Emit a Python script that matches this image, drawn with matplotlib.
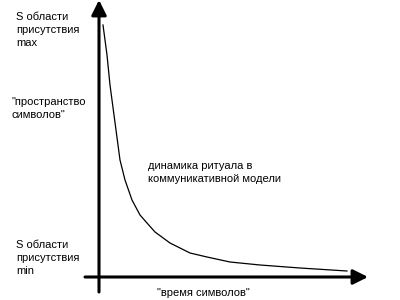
import matplotlib
matplotlib.use("Agg")
import matplotlib.pyplot as plt

# curve: t = time from origin, s = height above time axis
t = [4, 8, 11, 15, 17, 21, 26, 33, 41, 48, 56, 71, 91, 108, 131, 161, 201, 248]
s = [252, 222, 192, 162, 147, 117, 97, 77, 62, 54, 45, 34, 24, 20, 15, 12, 9, 6]

y_labels = ['S области\nприсутствия\nmax', '"пространство\nсимволов"', 'S области\nприсутствия\nmin']
x_label = '"время символов"'
curve_label = 'динамика ритуала в\nкоммуникативной модели'

plt.rcParams['font.family'] = ['Liberation Sans', 'DejaVu Sans']

fig = plt.figure(figsize=(4, 3), dpi=100)
ax = fig.add_axes([0, 0, 1, 1])
ax.set_xlim(-99, 301)
ax.set_ylim(-23, 277)
ax.axis('off')

# axes with arrow heads
arrow = dict(arrowstyle='-|>,head_length=0.9,head_width=0.45', lw=2.2, color='black',
             shrinkA=0, shrinkB=0)
ax.annotate('', xy=(0, 277), xytext=(0, -15), arrowprops=arrow)
ax.annotate('', xy=(269, 0), xytext=(-14, 0), arrowprops=arrow)

ax.plot(t, s, color='black', lw=0.9)

fs = 8
ls = 1.4
ax.text(-83, 265, y_labels[0], fontsize=fs, va='top', ha='left', linespacing=ls)
ax.text(-87, 180, y_labels[1], fontsize=fs, va='top', ha='left', linespacing=ls)
ax.text(-83, 37, y_labels[2], fontsize=fs, va='top', ha='left', linespacing=ls)
ax.text(49, 116, curve_label, fontsize=fs, va='top', ha='left', linespacing=ls)
ax.text(58, -11, x_label, fontsize=fs, va='top', ha='left')

fig.savefig('out.png', dpi=100)
